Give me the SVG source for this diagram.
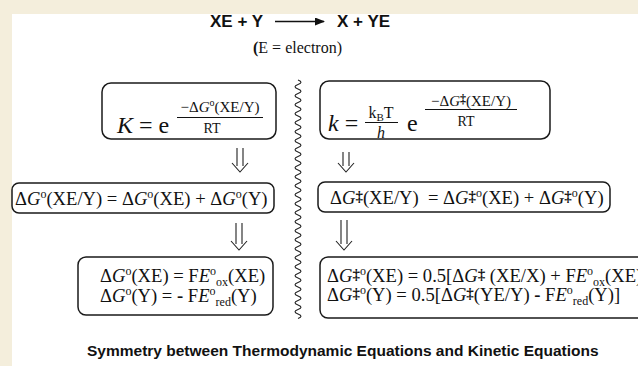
<svg xmlns="http://www.w3.org/2000/svg" width="638" height="366" viewBox="0 0 638 366">
<defs>
<style>
.bg{fill:#F4EEDC}
.panel{fill:#FFFFFF}
.serif{font-family:"Liberation Serif","Times New Roman",serif;fill:#111}
.sans{font-family:"Liberation Sans",Arial,sans-serif;font-weight:bold;fill:#111}
.eq{font-size:18.6px}
.it{font-style:italic}
.b{font-weight:bold}
.sup{font-size:12px}
.sub{font-size:12px}
.dag{font-size:15px;font-weight:bold}
.box{fill:#FFFFFF;stroke:#1a1a1a;stroke-width:1.5}
.frac{stroke:#111;stroke-width:1}
.dbl{fill:none;stroke:#222;stroke-width:1.1}
.wave{fill:none;stroke:#222;stroke-width:1.1}
</style>
<marker id="ah" markerWidth="10" markerHeight="8" refX="9" refY="4" orient="auto" markerUnits="userSpaceOnUse">
<path d="M0,0 L10,4 L0,8 Z" fill="#111"/>
</marker>
</defs>
<rect class="bg" x="0" y="0" width="638" height="366"/>
<rect class="panel" x="12" y="14" width="626" height="352"/>

<g id="reaction">
<text class="sans" font-size="17" x="210" y="27">XE + Y</text>
<text class="sans" font-size="17" x="337" y="27">X + YE</text>
<line x1="275" y1="21.5" x2="324" y2="21.5" stroke="#111" stroke-width="1.6" marker-end="url(#ah)"/>
</g>

<g id="note">
<text class="serif" font-size="16" x="253" y="53"><tspan class="b">(</tspan>E = electron)</text>
</g>

<g id="divider">
<path class="wave" d="M298,80 q6,2.25 0,4.5 t0,4.5 t0,4.5 t0,4.5 t0,4.5 t0,4.5 t0,4.5 t0,4.5 t0,4.5 t0,4.5 t0,4.5 t0,4.5 t0,4.5 t0,4.5 t0,4.5 t0,4.5 t0,4.5 t0,4.5 t0,4.5 t0,4.5 t0,4.5 t0,4.5 t0,4.5 t0,4.5 t0,4.5 t0,4.5 t0,4.5 t0,4.5 t0,4.5 t0,4.5 t0,4.5 t0,4.5 t0,4.5 t0,4.5 t0,4.5 t0,4.5 t0,4.5 t0,4.5 t0,4.5 t0,4.5 t0,4.5 t0,4.5 t0,4.5 t0,4.5 t0,4.5 t0,4.5 t0,4.5 t0,4.5 t0,4.5 t0,4.5 t0,4.5 t0,4.5 t0,4.5"/>
</g>

<g id="thermo-K">
<rect class="box" x="102" y="83" width="174" height="56" rx="9"/>
<text class="serif" font-size="24" x="117" y="133"><tspan class="it">K</tspan> = e</text>
<text class="serif" font-size="15" x="220" y="112" text-anchor="middle">−Δ<tspan class="it">G</tspan><tspan font-size="10" dy="-6">o</tspan><tspan dy="6">(XE/Y)</tspan></text>
<line class="frac" x1="177" y1="117.5" x2="263" y2="117.5"/>
<text class="serif" font-size="14" x="212" y="133" text-anchor="middle">RT</text>
</g>

<g id="thermo-sum">
<rect class="box" x="12" y="183" width="262" height="30" rx="7"/>
<text class="serif eq" x="15" y="205">Δ<tspan class="it">G</tspan><tspan class="sup" dy="-7">o</tspan><tspan dy="7">(XE/Y) = Δ</tspan><tspan class="it">G</tspan><tspan class="sup" dy="-7">o</tspan><tspan dy="7">(XE) + Δ</tspan><tspan class="it">G</tspan><tspan class="sup" dy="-7">o</tspan><tspan dy="7">(Y)</tspan></text>
</g>

<g id="thermo-redox">
<rect class="box" x="78" y="257" width="195" height="58" rx="8"/>
<text class="serif eq" x="100" y="282">Δ<tspan class="it">G</tspan><tspan class="sup" dy="-7">o</tspan><tspan dy="7">(XE) = F</tspan><tspan class="it">E</tspan><tspan class="sup" dy="-7">o</tspan><tspan class="sub" dy="11">ox</tspan><tspan dy="-4">(XE)</tspan></text>
<text class="serif eq" x="100" y="302">Δ<tspan class="it">G</tspan><tspan class="sup" dy="-7">o</tspan><tspan dy="7">(Y) = </tspan><tspan class="b">-</tspan> F<tspan class="it">E</tspan><tspan class="sup" dy="-7">o</tspan><tspan class="sub" dy="11">red</tspan><tspan dy="-4">(Y)</tspan></text>
</g>

<g id="kinetic-k">
<rect class="box" x="320" y="81" width="230" height="58" rx="9"/>
<text class="serif" font-size="24" x="328" y="131"><tspan class="it">k</tspan> =</text>
<text class="serif" font-size="16" x="381" y="118" text-anchor="middle">k<tspan font-size="11" dy="3">B</tspan><tspan dy="-3">T</tspan></text>
<line class="frac" x1="365" y1="122.5" x2="398" y2="122.5"/>
<text class="serif it" font-size="16" x="381" y="138" text-anchor="middle">h</text>
<text class="serif" font-size="24" x="407" y="131">e</text>
<text class="serif" font-size="15" x="471" y="106" text-anchor="middle">−Δ<tspan class="it">G</tspan><tspan font-size="12" font-weight="bold" dy="-3">‡</tspan><tspan dy="3">(XE/Y)</tspan></text>
<line class="frac" x1="425" y1="109.5" x2="517" y2="109.5"/>
<text class="serif" font-size="14" x="466" y="126" text-anchor="middle">RT</text>
</g>

<g id="kinetic-sum">
<rect class="box" x="318" y="182" width="292" height="30" rx="7"/>
<text class="serif eq" x="330" y="204" xml:space="preserve">Δ<tspan class="it">G</tspan><tspan class="dag" dy="-3">‡</tspan><tspan dy="3">(XE/Y)  = Δ</tspan><tspan class="it">G</tspan><tspan class="dag" dy="-3">‡</tspan><tspan class="sup" dy="-4">o</tspan><tspan dy="7">(XE) + Δ</tspan><tspan class="it">G</tspan><tspan class="dag" dy="-3">‡</tspan><tspan class="sup" dy="-4">o</tspan><tspan dy="7">(Y)</tspan></text>
</g>

<g id="kinetic-redox">
<rect class="box" x="320" y="257" width="330" height="61" rx="8"/>
<text class="serif eq" x="327" y="282">Δ<tspan class="it">G</tspan><tspan class="dag" dy="-3">‡</tspan><tspan class="sup" dy="-4">o</tspan><tspan dy="7">(XE) = 0.5[Δ</tspan><tspan class="it">G</tspan><tspan class="dag" dy="-3">‡</tspan><tspan dy="3"> (XE/X) + F</tspan><tspan class="it">E</tspan><tspan class="sup" dy="-7">o</tspan><tspan class="sub" dy="11">ox</tspan><tspan dy="-4">(XE)</tspan></text>
<text class="serif eq" x="327" y="301">Δ<tspan class="it">G</tspan><tspan class="dag" dy="-3">‡</tspan><tspan class="sup" dy="-4">o</tspan><tspan dy="7">(Y) = 0.5[Δ</tspan><tspan class="it">G</tspan><tspan class="dag" dy="-3">‡</tspan><tspan dy="3">(YE/Y) </tspan><tspan class="b">-</tspan> F<tspan class="it">E</tspan><tspan class="sup" dy="-7">o</tspan><tspan class="sub" dy="11">red</tspan><tspan dy="-4">(Y)]</tspan></text>
</g>

<g id="connectors">
<path class="dbl" d="M237,148 V166 M243,148 V166 M232,163 L240,172 L248,163"/>
<path class="dbl" d="M236,223 V244 M242,223 V244 M231,241 L239,250 L247,241"/>
<path class="dbl" d="M343,152 V166 M349,152 V166 M338,163 L346,172 L354,163"/>
<path class="dbl" d="M341,220 V244 M347,220 V244 M336,241 L344,250 L352,241"/>
</g>

<g id="caption">
<text class="sans" font-size="15.5" x="87" y="356">Symmetry between Thermodynamic Equations and Kinetic Equations</text>
</g>
</svg>
